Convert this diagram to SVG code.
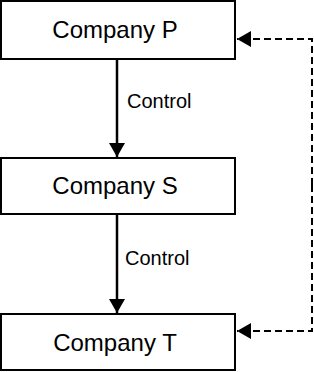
<svg xmlns="http://www.w3.org/2000/svg" width="314" height="372" viewBox="0 0 314 372">
<style>
.box{fill:#fff;stroke:#000;stroke-width:2}
.t{font-family:"Liberation Sans",Arial,sans-serif;font-size:24px;fill:#000;text-anchor:middle}
.l{font-family:"Liberation Sans",Arial,sans-serif;font-size:20px;fill:#000}
.e{fill:none;stroke:#000;stroke-width:2.5}
.d{fill:none;stroke:#000;stroke-width:2;stroke-dasharray:7 4}
</style>
<defs>
<marker id="a" markerWidth="14" markerHeight="16" refX="14" refY="8" orient="auto" markerUnits="userSpaceOnUse">
<path d="M0,0 L14,8 L0,16 z" fill="#000"/>
</marker>
</defs>
<g id="connectors">
<line class="e" x1="117" y1="60" x2="117" y2="157" marker-end="url(#a)"/>
<line class="e" x1="117" y1="215" x2="117" y2="313" marker-end="url(#a)"/>
<polyline class="d" points="312,185 312,39 237,39" marker-end="url(#a)"/>
<polyline class="d" points="312,185 312,331 237,331" marker-end="url(#a)"/>
<text class="l" x="127" y="108">Control</text>
<text class="l" x="125" y="265">Control</text>
</g>
<g id="P"><rect class="box" x="1" y="1" width="234" height="58"/><text class="t" x="115" y="38">Company P</text></g>
<g id="S"><rect class="box" x="1" y="158" width="234" height="56"/><text class="t" x="115" y="194">Company S</text></g>
<g id="T"><rect class="box" x="1" y="314" width="234" height="56"/><text class="t" x="115" y="351">Company T</text></g>
</svg>
